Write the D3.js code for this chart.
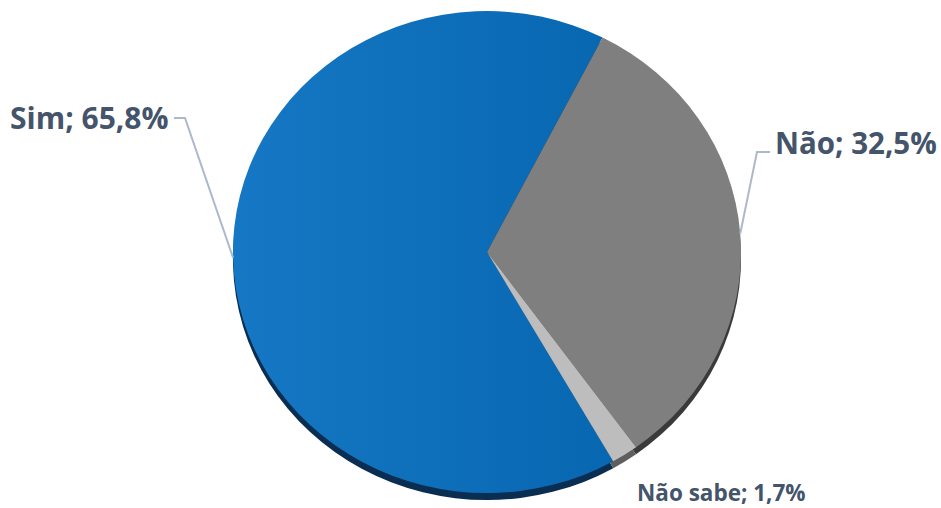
<!DOCTYPE html>
<html lang="pt">
<head>
<meta charset="UTF-8">
<script src="https://d3js.org/d3.v7.min.js"></script>
<style>
  body { margin: 0; background: #fff; }
  svg { display: block; }
  .lbl { font-family: "Open Sans", sans-serif; font-weight: 700; fill: #44546A; }
</style>
</head>
<body>
<svg width="941" height="508"></svg>
<script>
const categories = ["Sim", "Não", "Não sabe"];
const values = [65.8, 32.5, 1.7];
const labels = ["Sim; 65,8%", "Não; 32,5%", "Não sabe; 1,7%"];

const colors = ["url(#blueGrad)", "#7F7F7F", "#BDBDBD"];
const sideColors = ["#0A2D52", "#3A3A3A", "#5E5E5E"];

const cx = 487, cy = 252, rx = 254, ry = 241;
const rot = 150.2 * Math.PI / 180;   // Sim begins here, clockwise from 12 o'clock

const svg = d3.select("svg");
const defs = svg.append("defs");
const g1 = defs.append("linearGradient").attr("id", "blueGrad")
  .attr("x1", "0").attr("x2", "1").attr("y1", "0").attr("y2", "0");
g1.append("stop").attr("offset", "0%").attr("stop-color", "#1677C4");
g1.append("stop").attr("offset", "100%").attr("stop-color", "#0767B1");

const pie = d3.pie().sort(null).value(d => d).startAngle(rot).endAngle(rot + 2 * Math.PI);
const arcs = pie(values);
const arc = d3.arc().innerRadius(0).outerRadius(1);

// side / shadow of the tilted disc
svg.append("g")
  .attr("transform", `translate(${cx},${cy + 7}) scale(${rx},${ry})`)
  .selectAll("path").data(arcs).enter().append("path")
  .attr("d", arc).attr("fill", (d, i) => sideColors[i]);

// top face
svg.append("g")
  .attr("transform", `translate(${cx},${cy}) scale(${rx},${ry})`)
  .selectAll("path").data(arcs).enter().append("path")
  .attr("d", arc).attr("fill", (d, i) => colors[i]);

// labels: elbow + text position per slice
const lay = [
  { elbow: [185, 118], end: [174, 118], tx: 10, ty: 129, size: 30, line: true },
  { elbow: [757, 152], end: [770, 152], tx: 775, ty: 154, size: 29.5, line: true },
  { tx: 637, ty: 501, size: 22.5, line: false }
];

arcs.forEach((a, i) => {
  const L = lay[i];
  if (L.line) {
    const m = (a.startAngle + a.endAngle) / 2;
    const px = cx + rx * Math.sin(m), py = cy - ry * Math.cos(m);
    svg.append("path")
      .attr("d", d3.line()([[px, py], L.elbow, L.end]))
      .attr("fill", "none").attr("stroke", "#ADB9CA").attr("stroke-width", 2);
  }
  svg.append("text").attr("class", "lbl")
    .attr("x", L.tx).attr("y", L.ty)
    .attr("font-size", L.size)
    .text(labels[i]);
});
</script>
</body>
</html>
